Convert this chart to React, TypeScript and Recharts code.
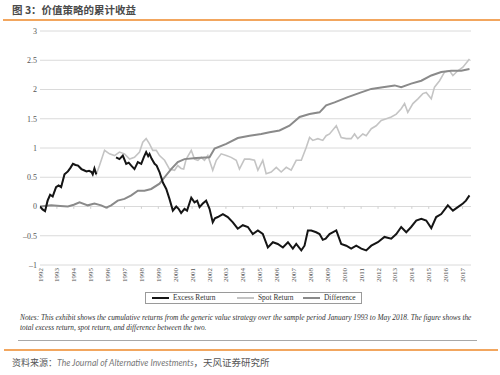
import { CartesianGrid, Line, LineChart, ReferenceLine, XAxis, YAxis } from "recharts"

// years on the axis and y ticks
const yearTicks = [
  1992, 1993, 1994, 1995, 1996, 1997, 1998, 1999, 2000, 2001, 2002, 2003, 2004,
  2005, 2006, 2007, 2008, 2009, 2010, 2011, 2012, 2013, 2014, 2015, 2016, 2017,
]
const valueTicks = [-1, -0.5, 0, 0.5, 1, 1.5, 2, 2.5, 3]

// Excess Return (black) - gap where it hides under the spot line
const excessYears = [
  1992.0, 1992.15, 1992.3, 1992.45, 1992.6, 1992.75, 1992.95, 1993.1, 1993.25, 1993.45,
  1993.65, 1993.8, 1993.95, 1994.1, 1994.25, 1994.45, 1994.6, 1994.75, 1994.9, 1995.05,
  1995.12, 1995.22, 1995.33, 1995.9, 1996.5, 1996.7, 1996.9, 1997.1, 1997.25, 1997.4,
  1997.59, 1997.79, 1997.99, 1998.15, 1998.28, 1998.4, 1998.48, 1998.6, 1998.78, 1998.9,
  1999.07, 1999.27, 1999.47, 1999.66, 1999.86, 2000.06, 2000.2, 2000.35, 2000.55, 2000.7,
  2000.95, 2001.14, 2001.3, 2001.44, 2001.63, 2001.83, 2002.03, 2002.22, 2002.35, 2002.52,
  2002.82, 2003.11, 2003.41, 2003.7, 2004.0, 2004.3, 2004.59, 2004.89, 2005.18, 2005.48,
  2005.78, 2006.07, 2006.37, 2006.67, 2006.96, 2007.16, 2007.46, 2007.65, 2007.85, 2008.05,
  2008.34, 2008.54, 2008.73, 2008.9, 2009.13, 2009.53, 2009.82, 2010.12, 2010.41, 2010.71,
  2011.01, 2011.3, 2011.6, 2011.99, 2012.38, 2012.78, 2013.08, 2013.37, 2013.67, 2013.96,
  2014.26, 2014.56, 2014.85, 2015.15, 2015.44, 2015.74, 2016.13, 2016.43, 2016.72, 2017.02,
  2017.2, 2017.41,
]
const excessValues = [
  0, -0.05, -0.08, 0.1, 0.2, 0.17, 0.33, 0.36, 0.33, 0.55,
  0.6, 0.66, 0.73, 0.71, 0.7, 0.64, 0.62, 0.6, 0.61, 0.59,
  0.55, 0.65, 0.55, null, 0.84, 0.81, 0.87, 0.73, 0.75, 0.7,
  0.64, 0.76, 0.73, 0.85, 0.93, 0.86, 0.9, 0.82, 0.73, 0.7,
  0.59, 0.41, 0.3, 0.13, -0.07, 0, -0.04, -0.11, -0.04, -0.07,
  0.15, 0.07, 0.1, -0.01, 0.05, 0.1, -0.04, -0.27, -0.2, -0.18,
  -0.13, -0.18, -0.27, -0.38, -0.32, -0.35, -0.47, -0.41, -0.47, -0.7,
  -0.61, -0.64, -0.7, -0.61, -0.72, -0.64, -0.75, -0.67, -0.41, -0.41,
  -0.44, -0.47, -0.57, -0.55, -0.47, -0.41, -0.64, -0.67, -0.72, -0.67,
  -0.72, -0.75, -0.67, -0.61, -0.52, -0.55, -0.47, -0.35, -0.44, -0.35,
  -0.24, -0.21, -0.24, -0.37, -0.18, -0.13, 0.02, -0.07, -0.01, 0.05,
  0.1, 0.19,
]

// Spot Return (light grey)
const spotYears = [
  1992.0, 1992.15, 1992.3, 1992.45, 1992.6, 1992.75, 1992.95, 1993.1, 1993.25, 1993.45,
  1993.65, 1993.8, 1993.95, 1994.1, 1994.25, 1994.45, 1994.6, 1994.75, 1994.9, 1995.05,
  1995.12, 1995.22, 1995.33, 1995.52, 1995.82, 1996.11, 1996.41, 1996.7, 1997.0, 1997.3,
  1997.59, 1997.89, 1998.08, 1998.28, 1998.48, 1998.67, 1998.88, 1999.07, 1999.37, 1999.66,
  1999.96, 2000.15, 2000.35, 2000.5, 2000.65, 2000.95, 2001.14, 2001.34, 2001.54, 2001.73,
  2001.93, 2002.22, 2002.43, 2002.72, 2003.02, 2003.31, 2003.61, 2003.8, 2004.1, 2004.4,
  2004.69, 2004.89, 2005.18, 2005.38, 2005.68, 2005.98, 2006.27, 2006.57, 2006.86, 2007.16,
  2007.46, 2007.75, 2007.95, 2008.14, 2008.44, 2008.73, 2008.93, 2009.13, 2009.53, 2009.82,
  2010.12, 2010.41, 2010.61, 2010.8, 2011.1, 2011.3, 2011.6, 2011.89, 2012.19, 2012.49,
  2012.78, 2013.08, 2013.37, 2013.57, 2013.76, 2014.06, 2014.36, 2014.65, 2014.85, 2015.15,
  2015.34, 2015.64, 2015.94, 2016.23, 2016.43, 2016.72, 2017.02, 2017.41,
]
const spotValues = [
  0, -0.05, -0.08, 0.1, 0.2, 0.17, 0.33, 0.36, 0.33, 0.55,
  0.6, 0.66, 0.73, 0.71, 0.7, 0.64, 0.62, 0.6, 0.61, 0.59,
  0.55, 0.65, 0.55, 0.7, 0.96, 0.9, 0.87, 0.93, 0.9, 0.81,
  0.84, 0.93, 1.1, 1.16, 1.07, 0.96, 0.96, 0.87, 0.79, 0.64,
  0.62, 0.7, 0.65, 0.64, 0.81, 0.96, 0.81, 0.79, 0.84, 0.79,
  0.87, 0.62, 0.79, 0.9, 0.87, 0.84, 0.79, 0.64, 0.81, 0.81,
  0.79, 0.62, 0.79, 0.56, 0.59, 0.67, 0.59, 0.67, 0.62, 0.79,
  0.79, 1.01, 1.18, 1.13, 1.16, 1.13, 1.21, 1.24, 1.38, 1.18,
  1.16, 1.16, 1.24, 1.16, 1.24, 1.21, 1.33, 1.38, 1.47, 1.5,
  1.53, 1.58, 1.67, 1.76, 1.61, 1.76, 1.84, 1.93, 1.95, 1.84,
  2.04, 2.15, 2.3, 2.32, 2.24, 2.32, 2.38, 2.52,
]

// Difference (mid grey)
const diffYears = [
  1992.0, 1992.66, 1993.2, 1993.65, 1994.0, 1994.34, 1994.83, 1995.22, 1995.62, 1995.92,
  1996.21, 1996.6, 1997.0, 1997.4, 1997.79, 1998.18, 1998.58, 1999.07, 1999.37, 1999.76,
  2000.15, 2000.55, 2001.24, 2002.03, 2002.33, 2003.02, 2003.7, 2004.4, 2005.09, 2005.58,
  2006.17, 2006.76, 2007.36, 2007.95, 2008.54, 2008.93, 2009.43, 2010.21, 2011.0, 2011.6,
  2012.28, 2012.98, 2013.37, 2013.96, 2014.56, 2015.15, 2015.74, 2016.33, 2016.92, 2017.41,
]
const diffValues = [
  0, 0.02, 0.01, 0, 0.03, 0.07, 0.02, 0.05, 0.02, -0.02,
  0.02, 0.1, 0.13, 0.19, 0.27, 0.27, 0.3, 0.39, 0.5, 0.64,
  0.76, 0.81, 0.83, 0.84, 0.99, 1.07, 1.17, 1.21, 1.24, 1.27,
  1.3, 1.38, 1.53, 1.58, 1.61, 1.73, 1.78, 1.87, 1.95, 2.01,
  2.04, 2.07, 2.04, 2.1, 2.15, 2.24, 2.3, 2.32, 2.32, 2.35,
]

const toPoints = (years: number[], values: (number | null)[]) =>
  years.map((t, i) => ({ t, v: values[i] }))

const excessData = toPoints(excessYears, excessValues)
const spotData = toPoints(spotYears, spotValues)
const diffData = toPoints(diffYears, diffValues)

const serif = "'Liberation Serif', 'Times New Roman', serif"
const cjk = "'Noto Sans CJK SC', sans-serif"

function YearTick(props: any) {
  const { x, y, payload } = props
  return (
    <text
      x={x}
      y={y}
      transform={`rotate(-90 ${x} ${y})`}
      textAnchor="end"
      dy={2.5}
      fontSize={7}
      fill="#555"
      fontFamily={serif}
    >
      {payload.value}
    </text>
  )
}

const fmtValue = (v: number) => (v < 0 ? "\u2013" + Math.abs(v) : String(v))

// legend pieces placed inside the box (offsets relative to box)
function LegendItem({ color, label, left }: { color: string; label: string; left: number }) {
  return (
    <div style={{ position: "absolute", left, top: 0, height: 9, display: "flex", alignItems: "center" }}>
      <div style={{ width: 17, height: 2, background: color, marginRight: 4 }} />
      <span>{label}</span>
    </div>
  )
}

export default function App() {
  return (
    <div
      style={{
        position: "absolute",
        left: 0,
        top: 0,
        width: 500,
        height: 375,
        background: "#fff",
        overflow: "hidden",
      }}
    >
      <div
        style={{
          position: "absolute",
          left: 12,
          top: 2,
          fontFamily: cjk,
          fontSize: 10.5,
          fontWeight: 700,
          color: "#4a4a4a",
          lineHeight: "15px",
        }}
      >
        图 3：价值策略的累计收益
      </div>
      <div style={{ position: "absolute", left: 3, top: 19, width: 497, height: 1.5, background: "#f2a65e" }} />

      <div style={{ position: "absolute", left: 0, top: 0 }}>
        <LineChart width={500} height={290} margin={{ top: 31, right: 29, bottom: 0, left: 0 }}>
          <CartesianGrid vertical={false} stroke="#dadada" />
          <XAxis
            type="number"
            dataKey="t"
            domain={[1992, 2017.5]}
            ticks={yearTicks}
            interval={0}
            tick={<YearTick />}
            tickSize={0}
            tickMargin={3}
            axisLine={false}
            tickLine={false}
            height={25}
            allowDataOverflow
          />
          <YAxis
            domain={[-1, 3]}
            ticks={valueTicks}
            width={40}
            axisLine={false}
            tickLine={false}
            tickSize={1}
            tickMargin={2}
            tickFormatter={fmtValue}
            tick={{ fontSize: 8, fill: "#555", fontFamily: serif }}
          />
          {yearTicks.map((yr) => (
            <ReferenceLine
              key={yr}
              segment={[
                { x: yr, y: 0 },
                { x: yr, y: -0.04 },
              ]}
              stroke="#cfcfcf"
            />
          ))}
          <Line
            data={spotData}
            dataKey="v"
            stroke="#c4c4c4"
            strokeWidth={1.6}
            dot={false}
            isAnimationActive={false}
            name="Spot Return"
          />
          <Line
            data={diffData}
            dataKey="v"
            stroke="#8a8a8a"
            strokeWidth={2}
            dot={false}
            isAnimationActive={false}
            name="Difference"
          />
          <Line
            data={excessData}
            dataKey="v"
            stroke="#151515"
            strokeWidth={2}
            dot={false}
            connectNulls={false}
            isAnimationActive={false}
            name="Excess Return"
          />
        </LineChart>
      </div>

      <div
        style={{
          position: "absolute",
          left: 145,
          top: 292,
          width: 217,
          height: 12,
          border: "1px solid #9a9a9a",
          boxSizing: "border-box",
          fontFamily: serif,
          fontSize: 7.4,
          color: "#333",
          whiteSpace: "nowrap",
        }}
      >
        <LegendItem color="#151515" label="Excess Return" left={6} />
        <LegendItem color="#c4c4c4" label="Spot Return" left={91} />
        <LegendItem color="#8a8a8a" label="Difference" left={157} />
      </div>

      <div
        style={{
          position: "absolute",
          left: 20,
          top: 313,
          width: 470,
          fontFamily: serif,
          fontStyle: "italic",
          fontSize: 7.35,
          lineHeight: "10px",
          color: "#333",
          whiteSpace: "nowrap",
        }}
      >
        Notes: This exhibit shows the cumulative returns from the generic value strategy over the sample period January 1993 to May 2018. The figure shows the
        <br />
        total excess return, spot return, and difference between the two.
      </div>
      <div style={{ position: "absolute", left: 18, top: 340, width: 459, height: 1, background: "#a8a8a8" }} />
      <div style={{ position: "absolute", left: 4, top: 349, width: 494, height: 1.5, background: "#f2a65e" }} />

      <div
        style={{
          position: "absolute",
          left: 12,
          top: 355,
          fontFamily: cjk,
          fontSize: 9,
          color: "#555",
          lineHeight: "14px",
          whiteSpace: "nowrap",
        }}
      >
        资料来源：
        <span style={{ fontFamily: "Lato, sans-serif", fontStyle: "italic", fontSize: 8.6, color: "#777" }}>
          The Journal of Alternative Investments
        </span>
        <span style={{ fontSize: 9.5 }}>，天风证券研究所</span>
      </div>
    </div>
  )
}
